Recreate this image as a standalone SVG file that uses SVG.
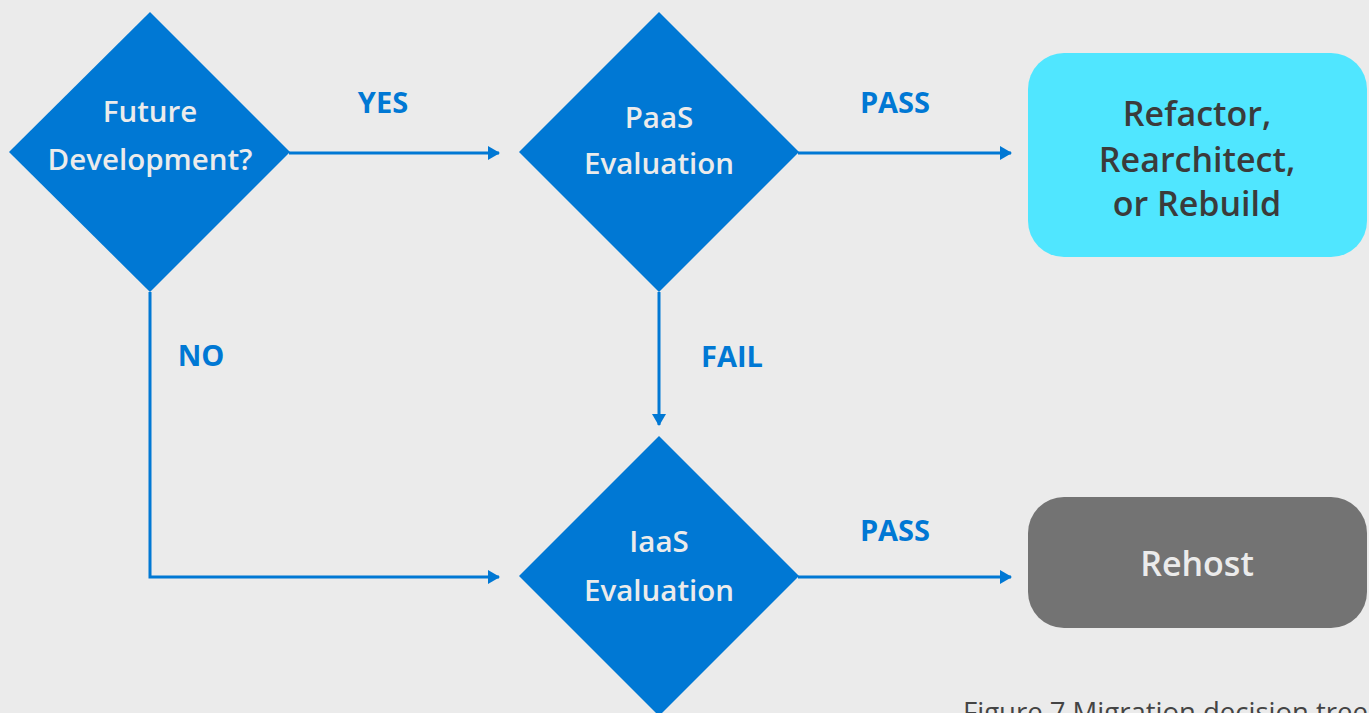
<svg xmlns="http://www.w3.org/2000/svg" width="1369" height="713" viewBox="0 0 1369 713">
<defs>
<style>
.bg{fill:#ebebeb}
.dia{fill:#0078d4}
.dt{font-family:"Open Sans","Noto Sans",sans-serif;font-weight:600;font-size:29.5px;fill:#ebebeb;text-anchor:middle}
.lbl{font-family:"Open Sans","Noto Sans",sans-serif;font-weight:700;font-size:29px;fill:#0078d4;text-anchor:middle}
.conn{fill:none;stroke:#0078d4;stroke-width:3}
.rt{font-family:"Open Sans","Noto Sans",sans-serif;font-weight:600;font-size:34px;text-anchor:middle}
.cap{font-family:"Open Sans","Noto Sans",sans-serif;font-size:27.5px;fill:#444444}
</style>
<marker id="ah" markerWidth="12" markerHeight="14" refX="11" refY="7" orient="auto" markerUnits="userSpaceOnUse">
<path d="M0,0 L12,7 L0,14 Z" fill="#0078d4"/>
</marker>
</defs>
<rect class="bg" x="0" y="0" width="1369" height="713"/>
<g id="connectors">
<path class="conn" d="M289,153 H499" marker-end="url(#ah)"/>
<path class="conn" d="M798,153 H1011" marker-end="url(#ah)"/>
<path class="conn" d="M659,292 V425" marker-end="url(#ah)"/>
<path class="conn" d="M150,292 V577 H499" marker-end="url(#ah)"/>
<path class="conn" d="M798,577 H1011" marker-end="url(#ah)"/>
<text class="lbl" x="383" y="113">YES</text>
<text class="lbl" x="895" y="113">PASS</text>
<text class="lbl" x="201" y="366">NO</text>
<text class="lbl" x="732" y="367">FAIL</text>
<text class="lbl" x="895" y="541">PASS</text>
</g>
<g id="future">
<polygon class="dia" points="150,12 290,152 150,292 9,152"/>
<text class="dt" x="150" y="122">Future</text>
<text class="dt" x="150" y="170">Development?</text>
</g>
<g id="paas">
<polygon class="dia" points="659,12 799,152 659,292 519,152"/>
<text class="dt" x="659" y="128">PaaS</text>
<text class="dt" x="659" y="174">Evaluation</text>
</g>
<g id="iaas">
<polygon class="dia" points="659,436 799,576 659,716 519,576"/>
<text class="dt" x="659" y="552">IaaS</text>
<text class="dt" x="659" y="601">Evaluation</text>
</g>
<g id="refactor">
<rect x="1028" y="53" width="339" height="204" rx="36" fill="#50e6ff"/>
<text class="rt" x="1197" y="126" fill="#3b3b3b">Refactor,</text>
<text class="rt" x="1197" y="172" fill="#3b3b3b">Rearchitect,</text>
<text class="rt" x="1197" y="216" fill="#3b3b3b">or Rebuild</text>
</g>
<g id="rehost">
<rect x="1028" y="497" width="339" height="131" rx="36" fill="#737373"/>
<text class="rt" x="1197" y="576" fill="#ebebeb">Rehost</text>
</g>
<text class="cap" x="963" y="722">Figure 7 Migration decision tree</text>
</svg>
